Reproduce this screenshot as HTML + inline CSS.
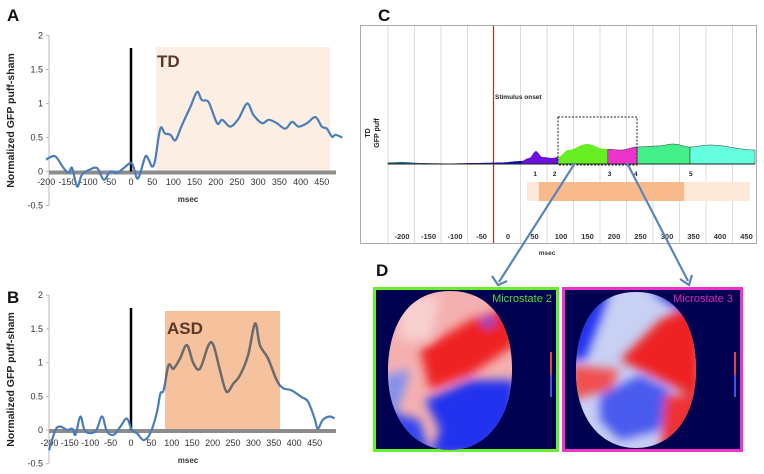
<!DOCTYPE html>
<html><head><meta charset="utf-8">
<style>
body{margin:0;background:#fff;font-family:"Liberation Sans",sans-serif}
svg{display:block}
text{font-family:"Liberation Sans",sans-serif}
</style></head>
<body>
<svg id="fig" width="764" height="474" viewBox="0 0 764 474">
<defs>
<filter id="blur" x="-20%" y="-20%" width="140%" height="140%"><feGaussianBlur stdDeviation="5"/></filter>
<clipPath id="h1"><path d="M450,291 C495,291 513,330 512,372 C511,420 485,450 450,450 C415,450 388,420 388,372 C388,330 405,291 450,291Z"/></clipPath>
<clipPath id="h2"><path d="M636,292 C680,292 697,330 696,372 C695,420 670,448 636,448 C602,448 576,420 576,372 C576,330 592,292 636,292Z"/></clipPath>
<clipPath id="shadeB"><rect x="165" y="280" width="115" height="190"/></clipPath>
</defs>
<g id="panelA"></g>
<g id="panelB"></g>
<g id="panelC"></g>
<g id="panelD">
 <text x="376" y="276" font-size="17" font-weight="bold" fill="#111">D</text>
 <g>
  <rect x="374.5" y="288.5" width="183" height="162" fill="#000050" stroke="#66ee33" stroke-width="3"/>
  <g clip-path="url(#h1)">
   <rect x="385" y="288" width="130" height="165" fill="#f4b0b0"/>
   <g filter="url(#blur)">
    <polygon points="420,350 470,320 515,305 515,345 470,375 430,390" fill="#ee2222"/>
    <polygon points="425,400 470,380 515,380 515,455 430,455 440,430" fill="#2233ee"/>
    <polygon points="385,375 410,370 395,420 385,420" fill="#8090ee"/>
    <polygon points="385,410 420,420 430,455 385,455" fill="#3344ee"/>
    <ellipse cx="488" cy="322" rx="7" ry="5" fill="#4050dd"/>
    <polygon points="400,300 440,295 430,340 400,340" fill="#f8d0d0"/>
   </g>
  </g>
  <text x="552" y="302" font-size="11" fill="#55dd33" text-anchor="end">Microstate 2</text>
  <rect x="550" y="352" width="2" height="45" fill="#dd4444"/>
  <rect x="550" y="375" width="2" height="22" fill="#4455dd"/>
 </g>
 <g>
  <rect x="563.5" y="288.5" width="178" height="162" fill="#000050" stroke="#ee33cc" stroke-width="3"/>
  <g clip-path="url(#h2)">
   <rect x="570" y="288" width="130" height="165" fill="#c8d0f4"/>
   <g filter="url(#blur)">
    <polygon points="570,290 610,290 600,320 585,360 570,360" fill="#2233ee"/>
    <polygon points="620,360 660,320 700,300 700,400 670,385" fill="#ee2020"/>
    <polygon points="570,365 620,370 610,390 570,400" fill="#f05050"/>
    <polygon points="600,395 640,375 670,390 660,430 620,440 600,420" fill="#4a5aee"/>
    <polygon points="665,395 700,395 700,455 660,455" fill="#ee3030"/>
    <polygon points="650,290 700,290 700,315 670,305" fill="#2233dd"/>
   </g>
  </g>
  <text x="733" y="302" font-size="11" fill="#dd22bb" text-anchor="end">Microstate 3</text>
  <rect x="734" y="352" width="2" height="45" fill="#dd4444"/>
  <rect x="734" y="375" width="2" height="22" fill="#4455dd"/>
 </g>
</g>
<g stroke="#5a85bb" stroke-width="2.2" fill="none">
 <line x1="575" y1="163" x2="499" y2="282"/>
 <polyline points="492,276 498,285 507,281"/>
 <line x1="627" y1="163" x2="688" y2="281"/>
 <polyline points="680,279 689,285 692,275"/>
</g>
</svg>
<script>
// ---- Panel A data (TD) ----
const tdTimes=[-200,-194,-178,-159,-147,-139,-127,-116,-100,-80,-64,-49,-33,-17,2,14,22,34,42,50,57,69,80,93,105,120,140,156,167,183,203,215,234,254,274,289,309,325,344,364,380,395,415,435,450,462,474,482,498];
const tdValues=[0.17,0.2,0.22,0.05,-0.02,0.05,-0.22,-0.05,0.02,0.05,-0.12,0,-0.02,0.05,0.12,-0.1,-0.02,0.22,0.17,0.07,0.17,0.63,0.56,0.54,0.46,0.68,0.95,1.17,1.05,1.02,0.71,0.76,0.66,0.78,1.0,0.83,0.71,0.76,0.71,0.63,0.73,0.66,0.71,0.8,0.66,0.63,0.51,0.54,0.5];
// ---- Panel B data (ASD) ----
const asdTimes=[-201,-185,-173,-156,-144,-136,-124,-112,-87,-71,-59,-42,-26,-10,2,15,31,47,63,72,80,92,104,120,137,153,169,190,202,218,234,251,267,287,304,316,336,357,373,393,418,434,450,458,470,487,499];
const asdValues=[-0.3,0,0.05,0,0.02,-0.07,0.2,-0.02,-0.02,0.2,-0.02,-0.07,0.05,0.17,0,-0.05,-0.15,-0.05,0.25,0.54,0.59,0.96,0.91,1.06,1.26,0.99,0.91,1.26,1.26,0.89,0.57,0.69,0.81,1.11,1.58,1.26,1.06,0.74,0.62,0.59,0.49,0.42,0.17,0.02,0.15,0.2,0.17];
const yTicks=[2,1.5,1,0.5,0,-0.5];
const yTickLabels=["2","1.5","1","0.5","0","-0.5"];
const xTicks=[-200,-150,-100,-50,0,50,100,150,200,250,300,350,400,450];
// ---- Panel C data ----
const cTickLabels=["-200","-150","-100","-50","0","50","100","150","200","250","300","350","400","450"];
const segStarts=[-215,-120,-80,43,110,205,261,362];
const segEnds=[-120,-80,43,110,205,261,362,486];
const segColors=["#1a6a7a","#a04a10","#1010b0","#6a10e0","#66ee22","#ee33cc","#44ee88","#66ffdd"];
const cWaveTimes=[-215,-190,-150,-100,-50,0,40,55,68,80,100,110,130,165,200,230,261,300,330,362,400,486];
const cWaveValues=[1.5,2,1,0.5,1,1.5,3,6,13,7,6,7,14,20,15,14,17,18,20,17,19,14];
const microNums=["1","2","3","4","5"];
const microNumTimes=[63,100,205,255,360];

const NS="http://www.w3.org/2000/svg";
function mk(parent,tag,attrs,txt){const e=document.createElementNS(NS,tag);for(const k in attrs)e.setAttribute(k,attrs[k]);if(txt!==undefined)e.textContent=txt;parent.appendChild(e);return e;}
function smoothPath(pts){let d="M"+pts[0][0]+","+pts[0][1];for(let i=0;i<pts.length-1;i++){const p0=pts[i-1]||pts[i],p1=pts[i],p2=pts[i+1],p3=pts[i+2]||p2;const c1x=p1[0]+(p2[0]-p0[0])/6,c1y=p1[1]+(p2[1]-p0[1])/6,c2x=p2[0]-(p3[0]-p1[0])/6,c2y=p2[1]-(p3[1]-p1[1])/6;d+=" C"+c1x.toFixed(1)+","+c1y.toFixed(1)+" "+c2x.toFixed(1)+","+c2y.toFixed(1)+" "+p2[0].toFixed(1)+","+p2[1].toFixed(1);}return d;}

function drawERP(g,o){
  const xs=t=>o.x0+t/50*o.dx, ys=v=>o.y0-v*o.dy*2;
  let e;
  e=mk(g,"rect",{x:o.shX,y:o.shY,width:o.shW,height:o.shH,fill:o.shFill});
  
  
  e=mk(g,"line",{x1:49,y1:ys(2),x2:49,y2:ys(-0.5),stroke:"#bbb","stroke-width":1});
  
  
  yTicks.forEach((v,i)=>{
    mk(g,"line",{x1:46,y1:ys(v),x2:49,y2:ys(v),stroke:"#bbb"});
    e=mk(g,"text",{x:43,y:ys(v)+3,"font-size":9,fill:"#333","text-anchor":"end"},yTickLabels[i]);
    
    
  });
  e=mk(g,"line",{x1:49,y1:ys(0)+1,x2:336,y2:ys(0)+1,stroke:"#8c8c8c","stroke-width":4});
  
  
  xTicks.forEach(t=>{
    e=mk(g,"text",{x:xs(t),y:o.lblY,"font-size":9,fill:"#333","text-anchor":"middle"},String(t));
    
    
  });
  e=mk(g,"line",{x1:xs(0),y1:o.onsetTop,x2:xs(0),y2:ys(0),stroke:"#000","stroke-width":2.5});
  
  
  const pts=o.times.map((t,i)=>[xs(t),ys(o.vals[i])]);
  const d=smoothPath(pts);
  e=mk(g,"path",{d:d,fill:"none",stroke:"#4a7ebb","stroke-width":2.2});
  
  
  if(o.grayClip){
    e=mk(g,"path",{d:d,fill:"none",stroke:"#6a6a6a","stroke-width":2.4,"clip-path":o.grayClip});
    
    
  }
  e=mk(g,"text",{x:o.labX,y:o.labY,"font-size":17,"font-weight":"bold",fill:"#5a3828"},o.label);
  
  
  e=mk(g,"text",{x:o.panX,y:o.panY,"font-size":17,"font-weight":"bold",fill:"#111"},o.panel);
  
  
  e=mk(g,"text",{x:188,y:o.msecY,"font-size":8,"font-weight":"bold",fill:"#333","text-anchor":"middle"},"msec");
  
  
  const cy=(ys(2)+ys(-0.5))/2;
  e=mk(g,"text",{x:0,y:0,"font-size":10.5,"font-weight":"bold",fill:"#222","text-anchor":"middle",transform:"translate(14,"+cy+") rotate(-90)"},"Normalized GFP puff-sham");
  
  
}
drawERP(document.getElementById("panelA"),{x0:131,dx:21.2,y0:171.5,dy:34,times:tdTimes,vals:tdValues,shX:156,shY:47,shW:174,shH:124,shFill:"#fdeee3",lblY:185,onsetTop:48,labX:157,labY:67,label:"TD",panX:7,panY:21,panel:"A",msecY:202});
drawERP(document.getElementById("panelB"),{x0:131,dx:20.4,y0:430,dy:33.7,times:asdTimes,vals:asdValues,shX:165,shY:311,shW:115,shH:118,shFill:"#f6c29d",lblY:446,onsetTop:308,labX:167,labY:334,label:"ASD",panX:7,panY:303,panel:"B",msecY:463,grayClip:"url(#shadeB)"});

// Panel C
(function(){
  const g=document.getElementById("panelC");
  const xc=t=>493+(t+14)/50*26.2;
  const base=164, yc=v=>base-v;
  let e;
  e=mk(g,"text",{x:378,y:21,"font-size":17,"font-weight":"bold",fill:"#111"},"C");
  
  
  e=mk(g,"rect",{x:360.5,y:25.5,width:396,height:218,fill:"#fff",stroke:"#aaa"});
  
  
  for(let i=0;i<14;i++){const x=388+i*26.5;if(Math.abs(x-493)<4)continue;mk(g,"line",{x1:x,y1:26,x2:x,y2:243,stroke:"#ddd"});}
  e=mk(g,"line",{x1:493.5,y1:26,x2:493.5,y2:243,stroke:"#a03030","stroke-width":1.2});
  
  
  e=mk(g,"text",{x:495,y:99,"font-size":6.5,"font-weight":"bold",fill:"#222"},"Stimulus onset");
  
  
  function wv(t){for(let i=0;i<cWaveTimes.length-1;i++){if(t<=cWaveTimes[i+1]){const f=(t-cWaveTimes[i])/(cWaveTimes[i+1]-cWaveTimes[i]);const s=(1-Math.cos(Math.PI*f))/2;return cWaveValues[i]+s*(cWaveValues[i+1]-cWaveValues[i]);}}return cWaveValues[cWaveValues.length-1];}
  segStarts.forEach((s,i)=>{
    const en=segEnds[i];let pts=[];
    for(let t=s;t<=en;t+=3)pts.push(xc(t).toFixed(1)+","+yc(wv(t)).toFixed(1));
    pts.push(xc(en).toFixed(1)+","+yc(wv(en)).toFixed(1));
    pts.push(xc(en).toFixed(1)+","+base);pts.push(xc(s).toFixed(1)+","+base);
    e=mk(g,"polygon",{points:pts.join(" "),fill:segColors[i],stroke:i>=5?"#333":"none","stroke-width":0.5});
    
    
  });
  e=mk(g,"line",{x1:xc(-215),y1:base,x2:xc(486),y2:base,stroke:"#222","stroke-width":1});
  
  
  e=mk(g,"rect",{x:558,y:117,width:79,height:48,fill:"none",stroke:"#222","stroke-dasharray":"2,1.5"});
  
  
  microNums.forEach((n,i)=>{
    e=mk(g,"text",{x:xc(microNumTimes[i]),y:176,"font-size":6.5,"font-weight":"bold",fill:"#222"},n);
    
    
  });
  e=mk(g,"rect",{x:527,y:182,width:223,height:19,fill:"#fde8da"});
  
  
  e=mk(g,"rect",{x:539,y:182,width:145,height:19,fill:"#f8b98b"});
  
  
  cTickLabels.forEach((l,i)=>{
    e=mk(g,"text",{x:402+i*26.5,y:239,"font-size":7.5,"font-weight":"bold",fill:"#333","text-anchor":"middle"},l);
    
    
  });
  e=mk(g,"text",{x:547,y:255,"font-size":6.5,"font-weight":"bold",fill:"#333","text-anchor":"middle"},"msec");
  
  
  e=mk(g,"text",{x:0,y:0,"font-size":7,"font-weight":"bold",fill:"#222","text-anchor":"middle",transform:"translate(370,133) rotate(-90)"},"TD");
  
  
  e=mk(g,"text",{x:0,y:0,"font-size":7,"font-weight":"bold",fill:"#222","text-anchor":"middle",transform:"translate(379,133) rotate(-90)"},"GFP puff");
  
  
})();
</script>
</body></html>
